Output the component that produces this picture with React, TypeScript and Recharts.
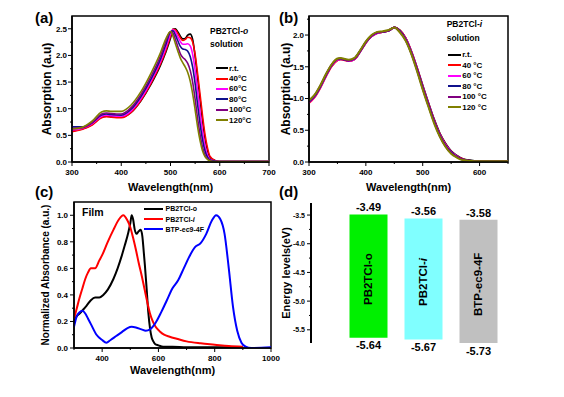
import React from 'react';
import {
  LineChart, Line, XAxis, YAxis, ReferenceArea, Legend, BarChart, Bar, LabelList, Cell,
} from 'recharts';

const FONT = '"Liberation Sans", Arial, Helvetica, sans-serif';

// (a) PB2TCl-o in solution, heated
const wlA = [300, 320, 340, 360, 370, 380, 400, 420, 440, 460, 480, 490, 500, 505, 510, 515, 520, 525, 530, 535, 540, 545, 550, 555, 560, 565, 570, 575, 580, 590, 600, 650, 700];
const oRT = [0.58, 0.62, 0.70, 0.84, 0.86, 0.85, 0.84, 0.93, 1.15, 1.45, 1.82, 2.05, 2.32, 2.49, 2.50, 2.44, 2.36, 2.31, 2.32, 2.38, 2.40, 2.30, 1.98, 1.58, 1.18, 0.78, 0.45, 0.22, 0.09, 0.03, 0.01, 0.01, 0.01];
const o40 = [0.57, 0.61, 0.69, 0.83, 0.85, 0.84, 0.83, 0.93, 1.16, 1.47, 1.85, 2.08, 2.36, 2.49, 2.48, 2.41, 2.33, 2.28, 2.30, 2.34, 2.33, 2.25, 2.02, 1.66, 1.27, 0.87, 0.52, 0.27, 0.11, 0.03, 0.01, 0.01, 0.01];
const o60 = [0.60, 0.63, 0.71, 0.86, 0.88, 0.87, 0.86, 0.96, 1.19, 1.51, 1.89, 2.13, 2.40, 2.48, 2.44, 2.35, 2.26, 2.21, 2.21, 2.22, 2.18, 2.02, 1.72, 1.33, 0.93, 0.57, 0.30, 0.13, 0.05, 0.02, 0.01, 0.01, 0.01];
const o80 = [0.66, 0.66, 0.73, 0.88, 0.90, 0.89, 0.88, 0.99, 1.23, 1.55, 1.94, 2.19, 2.44, 2.46, 2.38, 2.27, 2.17, 2.12, 2.11, 2.08, 1.98, 1.78, 1.47, 1.08, 0.72, 0.42, 0.21, 0.09, 0.04, 0.02, 0.01, 0.01, 0.01];
const o100 = [0.63, 0.64, 0.73, 0.90, 0.92, 0.91, 0.90, 1.02, 1.27, 1.60, 2.00, 2.25, 2.45, 2.42, 2.30, 2.16, 2.03, 1.96, 1.92, 1.85, 1.72, 1.50, 1.18, 0.82, 0.52, 0.28, 0.13, 0.06, 0.03, 0.01, 0.01, 0.01, 0.01];
const o120 = [0.62, 0.65, 0.76, 0.94, 0.96, 0.95, 0.95, 1.07, 1.32, 1.66, 2.06, 2.30, 2.45, 2.36, 2.22, 2.08, 1.95, 1.86, 1.78, 1.68, 1.52, 1.28, 0.98, 0.66, 0.40, 0.21, 0.10, 0.05, 0.02, 0.01, 0.01, 0.01, 0.01];

// (b) PB2TCl-i in solution, heated
const wlB = [300, 310, 320, 330, 340, 350, 355, 360, 370, 380, 390, 400, 410, 420, 430, 440, 450, 460, 470, 480, 490, 500, 510, 520, 530, 540, 550, 560, 570, 580, 600, 625, 650];
const iRT = [0.95, 1.04, 1.19, 1.37, 1.52, 1.61, 1.62, 1.62, 1.59, 1.62, 1.74, 1.88, 1.98, 2.03, 2.05, 2.07, 2.12, 2.07, 1.95, 1.74, 1.48, 1.20, 0.93, 0.67, 0.45, 0.29, 0.17, 0.10, 0.05, 0.03, 0.01, 0.01, 0.01];
const i40 = [0.93, 1.02, 1.17, 1.35, 1.51, 1.60, 1.62, 1.61, 1.59, 1.62, 1.74, 1.88, 1.98, 2.03, 2.05, 2.07, 2.12, 2.07, 1.95, 1.74, 1.48, 1.19, 0.92, 0.66, 0.44, 0.28, 0.16, 0.09, 0.05, 0.02, 0.01, 0.01, 0.01];
const i60 = [0.94, 1.03, 1.18, 1.36, 1.52, 1.61, 1.62, 1.62, 1.59, 1.62, 1.74, 1.88, 1.98, 2.03, 2.05, 2.07, 2.12, 2.06, 1.94, 1.73, 1.47, 1.18, 0.91, 0.65, 0.43, 0.27, 0.16, 0.09, 0.04, 0.02, 0.01, 0.01, 0.01];
const i80 = [0.95, 1.04, 1.19, 1.37, 1.53, 1.62, 1.63, 1.62, 1.60, 1.63, 1.75, 1.89, 1.99, 2.04, 2.05, 2.07, 2.12, 2.06, 1.93, 1.72, 1.46, 1.17, 0.90, 0.64, 0.42, 0.26, 0.15, 0.08, 0.04, 0.02, 0.01, 0.01, 0.01];
const i100 = [0.96, 1.05, 1.20, 1.38, 1.53, 1.62, 1.63, 1.62, 1.60, 1.63, 1.75, 1.89, 1.99, 2.04, 2.05, 2.07, 2.12, 2.05, 1.92, 1.71, 1.45, 1.16, 0.89, 0.63, 0.41, 0.25, 0.14, 0.08, 0.04, 0.02, 0.01, 0.01, 0.01];
const i120 = [0.97, 1.06, 1.21, 1.39, 1.54, 1.63, 1.64, 1.63, 1.61, 1.64, 1.76, 1.90, 2.00, 2.05, 2.06, 2.08, 2.12, 2.04, 1.91, 1.70, 1.43, 1.14, 0.87, 0.61, 0.40, 0.24, 0.13, 0.07, 0.03, 0.02, 0.01, 0.01, 0.01];

const tempNamesA = ['r.t.', '40°C', '60°C', '80°C', '100°C', '120°C'];
const tempNamesB = ['r.t.', '40 °C', '60 °C', '80 °C', '100 °C', '120 °C'];
const tempColors = ['#000000', '#ff0000', '#ff00ff', '#10108c', '#800080', '#808000'];
const tempKeys = ['rt', 't40', 't60', 't80', 't100', 't120'];

// (c) normalized film absorption
const filmOWl = [300, 310, 320, 333, 345, 360, 375, 390, 404, 420, 440, 455, 469, 480, 493, 500, 505, 510, 516, 522, 530, 537, 543, 548, 552, 558, 564, 570, 576, 582, 588, 600, 617, 650, 700, 800, 900];
const filmO = [0.21, 0.24, 0.26, 0.29, 0.32, 0.36, 0.38, 0.38, 0.40, 0.44, 0.52, 0.60, 0.69, 0.77, 0.87, 0.94, 1.00, 0.97, 0.89, 0.86, 0.88, 0.89, 0.84, 0.72, 0.62, 0.45, 0.27, 0.15, 0.08, 0.05, 0.03, 0.02, 0.01, 0.01, 0.005, 0.005, 0.005];
const filmIWl = [300, 310, 320, 330, 340, 350, 360, 375, 390, 400, 420, 440, 460, 475, 490, 500, 510, 520, 530, 540, 550, 560, 570, 580, 590, 605, 620, 640, 665, 700, 750, 800, 850, 900];
const filmI = [0.22, 0.30, 0.38, 0.45, 0.52, 0.57, 0.60, 0.60, 0.66, 0.70, 0.80, 0.89, 0.97, 1.00, 0.96, 0.91, 0.83, 0.74, 0.64, 0.55, 0.45, 0.35, 0.26, 0.20, 0.16, 0.125, 0.10, 0.085, 0.07, 0.05, 0.035, 0.025, 0.015, 0.01];
const filmBWl = [300, 310, 320, 330, 340, 350, 360, 380, 400, 415, 430, 450, 470, 490, 505, 520, 540, 555, 570, 590, 610, 630, 650, 670, 690, 710, 730, 750, 770, 790, 805, 820, 835, 850, 865, 880, 895, 910, 930, 1000];
const filmB = [0.16, 0.24, 0.27, 0.28, 0.26, 0.22, 0.18, 0.10, 0.06, 0.04, 0.06, 0.09, 0.12, 0.15, 0.16, 0.155, 0.14, 0.13, 0.14, 0.19, 0.27, 0.36, 0.45, 0.51, 0.60, 0.69, 0.76, 0.79, 0.86, 0.96, 1.00, 0.97, 0.86, 0.60, 0.31, 0.13, 0.04, 0.01, 0.0, 0.005];
const filmNames = ['PB2TCl-o', 'PB2TCl-i', 'BTP-ec9-4F'];
const filmColors = ['#000000', '#ff0000', '#0000ff'];

// (d) energy levels
const levelNames = ['PB2TCl-o', 'PB2TCl-i', 'BTP-ec9-4F'];
const lumo = [-3.49, -3.56, -3.58];
const homo = [-5.64, -5.67, -5.73];
const levelColors = ['#00f000', '#80ffff', '#c0c0c0'];

// axis ticks
const ticksAX = [300, 350, 400, 450, 500, 550, 600, 650, 700];
const ticksAY = [0, 0.25, 0.5, 0.75, 1, 1.25, 1.5, 1.75, 2, 2.25, 2.5];
const ticksBX = [300, 350, 400, 450, 500, 550, 600, 650];
const ticksBY = [0, 0.25, 0.5, 0.75, 1, 1.25, 1.5, 1.75, 2, 2.25];
const ticksCX = [300, 400, 500, 600, 700, 800, 900, 1000];
const ticksCY = [0, 0.1, 0.2, 0.3, 0.4, 0.5, 0.6, 0.7, 0.8, 0.9, 1.0];
const ticksDY = [-5.5, -5.25, -5, -4.75, -4.5, -4.25, -4, -3.75, -3.5];

const domA: [number, number] = [0, 2.74];
const domB: [number, number] = [0, 2.3];
const domC: [number, number] = [0, 1.1];

const rowsA = wlA.map((w, i) => ({ w, rt: oRT[i], t40: o40[i], t60: o60[i], t80: o80[i], t100: o100[i], t120: o120[i] }));
const rowsB = wlB.map((w, i) => ({ w, rt: iRT[i], t40: i40[i], t60: i60[i], t80: i80[i], t100: i100[i], t120: i120[i] }));
const filmSets = [
  filmOWl.map((w, i) => ({ w, v: filmO[i] })),
  filmIWl.map((w, i) => ({ w, v: filmI[i] })),
  filmBWl.map((w, i) => ({ w, v: filmB[i] })),
];
const levelRows = levelNames.map((name, i) => ({ name, range: [homo[i], lumo[i]], lumo: lumo[i], homo: homo[i] }));

const bold = { fontFamily: FONT, fontWeight: 700, fill: '#000' } as const;
const near = (v: number, step: number) => Math.abs(v / step - Math.round(v / step)) < 1e-6;

const makeYTick = (step: number, digits: number, size: number, gap: number, len = 4) => (p: any) => {
  const { x, y, payload } = p;
  const major = near(payload.value, step);
  return (
    <g>
      <line x1={x} x2={x - (major ? len : len / 2)} y1={y} y2={y} stroke="#000" strokeWidth={1} />
      {major && (
        <text x={x - gap} y={y + size * 0.36} textAnchor="end" fontSize={size} {...bold}>
          {payload.value.toFixed(digits)}
        </text>
      )}
    </g>
  );
};

const makeXTick = (step: number, size: number) => (p: any) => {
  const { x, y, payload } = p;
  const major = near(payload.value, step);
  return (
    <g>
      <line x1={x} x2={x} y1={y} y2={y + (major ? 4 : 2)} stroke="#000" strokeWidth={1} />
      {major && (
        <text x={x} y={y + 12.5} textAnchor="middle" fontSize={size} {...bold}>{payload.value}</text>
      )}
    </g>
  );
};

const axisTitle = (value: string, size: number, offset: number, vertical: boolean) => ({
  value,
  angle: vertical ? -90 : 0,
  position: vertical ? 'insideLeft' : 'insideBottom',
  offset,
  style: { ...bold, fontSize: size, textAnchor: 'middle' },
}) as any;

// only the -i suffix is set in italics in panels c and d
const htmlName = (n: string) => (n.endsWith('-i') ? <>{n.slice(0, -1)}<i>i</i></> : n);
const svgName = (n: string) => (n.endsWith('-i') ? <>{n.slice(0, -1)}<tspan fontStyle="italic">i</tspan></> : n);

const TempLegend = ({ title, tag, names, rowH, gap, lineW, indent }: any) => (
  <div style={{ fontFamily: FONT, fontWeight: 700, color: '#000', whiteSpace: 'nowrap' }}>
    <div style={{ fontSize: 8.5, lineHeight: '13.5px' }}>{title}<i>{tag}</i></div>
    <div style={{ fontSize: 8.5, lineHeight: '13.5px', marginBottom: gap }}>solution</div>
    {names.map((n: string, i: number) => (
      <div key={n} style={{ display: 'flex', alignItems: 'center', height: rowH, fontSize: 8, paddingLeft: indent }}>
        <span style={{ display: 'inline-block', width: lineW, height: 2, background: tempColors[i], marginRight: 1 }} />
        {n}
      </div>
    ))}
  </div>
);

const FilmLegend = () => (
  <div style={{ fontFamily: FONT, fontWeight: 700, color: '#000', whiteSpace: 'nowrap' }}>
    {filmNames.map((n, i) => (
      <div key={n} style={{ display: 'flex', alignItems: 'center', height: 10.2, fontSize: 7 }}>
        <span style={{ display: 'inline-block', width: 19, height: 2, background: filmColors[i], marginRight: 2.5 }} />
        {htmlName(n)}
      </div>
    ))}
  </div>
);

const frame = (x: [number, number], y: [number, number]) => (
  <ReferenceArea x1={x[0]} x2={x[1]} y1={y[0]} y2={y[1]} fill="none" stroke="#000" strokeWidth={1.5} ifOverflow="visible" />
);

const PanelA = () => (
  <LineChart width={290} height={200} data={rowsA} margin={{ top: 16, right: 21, bottom: 0, left: 0 }}>
    <XAxis dataKey="w" type="number" domain={[300, 700]} ticks={ticksAX} interval={0} allowDataOverflow
      height={38} axisLine={{ stroke: '#000', strokeWidth: 1.5 }} tickLine={false} tickSize={0} tickMargin={0}
      tick={makeXTick(100, 8)} label={axisTitle('Wavelength(nm)', 11, 9, false)} />
    <YAxis type="number" domain={domA} ticks={ticksAY} interval={0} allowDataOverflow width={72}
      axisLine={{ stroke: '#000', strokeWidth: 1.5 }} tickLine={false} tickSize={0} tickMargin={0}
      tick={makeYTick(0.5, 1, 8, 5)} label={axisTitle('Absorption (a.u)', 12, 47, true)} />
    {frame([300, 700], domA)}
    {tempKeys.map((k, i) => (
      <Line key={k} dataKey={k} name={tempNamesA[i]} type="monotone" stroke={tempColors[i]} strokeWidth={1.6}
        dot={false} isAnimationActive={false} />
    ))}
    <Legend layout="vertical" align="center" verticalAlign="middle"
      wrapperStyle={{ left: 210, top: 24.5, width: 60, height: 120 }}
      content={() => <TempLegend title="PB2TCl-" tag="o" names={tempNamesA} rowH={10.4} gap={11.5} lineW={12} indent={6} />} />
  </LineChart>
);

const PanelB = () => (
  <LineChart width={294} height={200} data={rowsB} margin={{ top: 16, right: 56, bottom: 0, left: 0 }}>
    <XAxis dataKey="w" type="number" domain={[300, 650]} ticks={ticksBX} interval={0} allowDataOverflow
      height={38} axisLine={{ stroke: '#000', strokeWidth: 1.5 }} tickLine={false} tickSize={0} tickMargin={0}
      tick={makeXTick(100, 8)} label={axisTitle('Wavelength(nm)', 11, 9, false)} />
    <YAxis type="number" domain={domB} ticks={ticksBY} interval={0} allowDataOverflow width={39}
      axisLine={{ stroke: '#000', strokeWidth: 1.5 }} tickLine={false} tickSize={0} tickMargin={0}
      tick={makeYTick(0.5, 1, 8, 5)} label={axisTitle('Absorption (a.u)', 12, 16, true)} />
    {frame([300, 650], domB)}
    {tempKeys.map((k, i) => (
      <Line key={k} dataKey={k} name={tempNamesB[i]} type="monotone" stroke={tempColors[i]} strokeWidth={2}
        dot={false} isAnimationActive={false} />
    ))}
    <Legend layout="vertical" align="center" verticalAlign="middle"
      wrapperStyle={{ left: 176.7, top: 18, width: 60, height: 120 }}
      content={() => <TempLegend title="PB2TCl-" tag="i" names={tempNamesB} rowH={10.5} gap={4.5} lineW={13} indent={1.5} />} />
  </LineChart>
);

const PanelC = () => (
  <LineChart width={290} height={207} margin={{ top: 12, right: 19, bottom: 0, left: 0 }}>
    <XAxis dataKey="w" type="number" domain={[300, 1000]} ticks={ticksCX} interval={0} allowDataOverflow
      height={49} axisLine={{ stroke: '#000', strokeWidth: 1.5 }} tickLine={false} tickSize={0} tickMargin={0}
      tick={makeXTick(200, 8)} label={axisTitle('Wavelength(nm)', 11, 23, false)} />
    <YAxis type="number" domain={domC} ticks={ticksCY} interval={0} allowDataOverflow width={74}
      axisLine={{ stroke: '#000', strokeWidth: 1.5 }} tickLine={false} tickSize={0} tickMargin={0}
      tick={makeYTick(0.2, 1, 8, 6)} label={axisTitle('Normalized Absorbance (a.u.)', 10, 45, true)} />
    {frame([300, 1000], domC)}
    {filmSets.map((d, i) => (
      <Line key={filmNames[i]} data={d} dataKey="v" name={filmNames[i]} type="monotone" stroke={filmColors[i]}
        strokeWidth={2} dot={false} isAnimationActive={false} />
    ))}
    <Legend layout="vertical" align="center" verticalAlign="middle"
      wrapperStyle={{ left: 144, top: 13.9, width: 90, height: 32 }} content={() => <FilmLegend />} />
  </LineChart>
);

const edge = (p: any) => {
  const vb = p.viewBox || p;
  const top = Math.min(vb.y, vb.y + vb.height);
  const bottom = Math.max(vb.y, vb.y + vb.height);
  return { cx: vb.x + vb.width / 2, top, bottom };
};

const TopLabel = (p: any) => {
  const { cx, top } = edge(p);
  return <text x={cx} y={top - 3} textAnchor="middle" fontSize={11} {...bold}>{Number(p.value).toFixed(2)}</text>;
};
const BottomLabel = (p: any) => {
  const { cx, bottom } = edge(p);
  return <text x={cx} y={bottom + 11.5} textAnchor="middle" fontSize={11} {...bold}>{Number(p.value).toFixed(2)}</text>;
};
const NameLabel = (p: any) => {
  const { cx, top, bottom } = edge(p);
  const cy = (top + bottom) / 2 + 3;
  return (
    <text x={cx} y={cy} dy={4} textAnchor="middle" fontSize={11.5} {...bold} transform={`rotate(-90, ${cx}, ${cy})`}>
      {svgName(String(p.value))}
    </text>
  );
};

const PanelD = () => (
  <BarChart width={294} height={207} data={levelRows} margin={{ top: 13, right: 44, bottom: 54, left: 0 }}>
    <XAxis dataKey="name" hide padding={{ left: 29.5, right: 14.5 }} />
    <YAxis type="number" domain={[-5.73, -3.29]} ticks={ticksDY} interval={0} allowDataOverflow width={41}
      axisLine={{ stroke: '#000', strokeWidth: 2 }} tickLine={false} tickSize={0} tickMargin={0}
      tick={makeYTick(0.5, 1, 7, 6)} label={axisTitle('Energy levels(eV)', 11, 16, true)} />
    <Bar dataKey="range" barSize={38} isAnimationActive={false}>
      {levelRows.map((r, i) => <Cell key={r.name} fill={levelColors[i]} />)}
      <LabelList dataKey="lumo" content={TopLabel} />
      <LabelList dataKey="homo" content={BottomLabel} />
      <LabelList dataKey="name" content={NameLabel} />
    </Bar>
  </BarChart>
);

const tag = (text: string, left: number, top: number) => (
  <div style={{ position: 'absolute', left, top, fontFamily: FONT, fontWeight: 700, fontSize: 15, lineHeight: '16px' }}>{text}</div>
);

export default function App() {
  return (
    <div style={{ position: 'absolute', left: 0, top: 0, width: 564, height: 397, background: '#fff', overflow: 'hidden' }}>
      <div style={{ position: 'absolute', left: 0, top: 0 }}><PanelA /></div>
      <div style={{ position: 'absolute', left: 270, top: 0 }}><PanelB /></div>
      <div style={{ position: 'absolute', left: 0, top: 190 }}><PanelC /></div>
      <div style={{ position: 'absolute', left: 270, top: 190 }}><PanelD /></div>
      <div style={{ position: 'absolute', left: 82, top: 204.5, fontFamily: FONT, fontWeight: 700, fontSize: 10.5, lineHeight: '14px' }}>Film</div>
      {tag('(a)', 35, 9.5)}
      {tag('(b)', 279, 9.5)}
      {tag('(c)', 35, 183.5)}
      {tag('(d)', 279, 183.5)}
    </div>
  );
}
